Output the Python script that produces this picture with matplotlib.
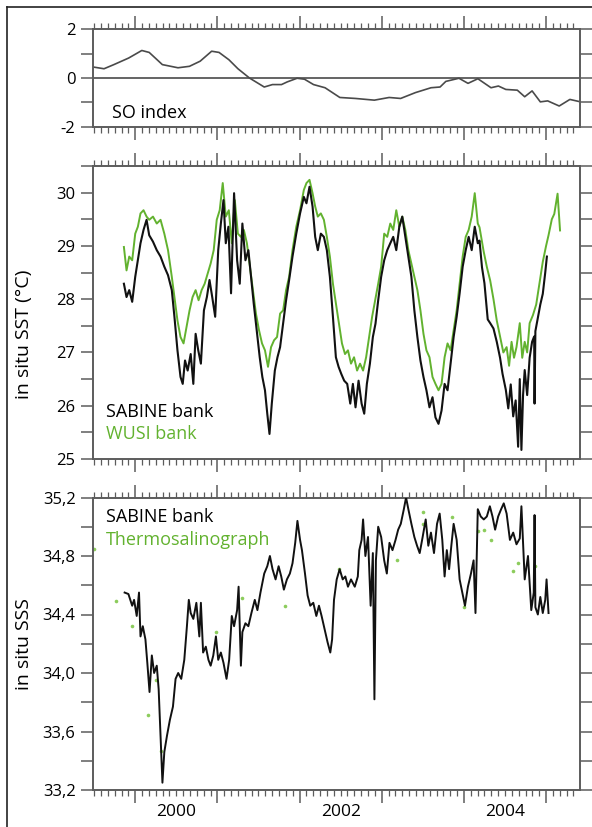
import matplotlib
matplotlib.use("Agg")
import matplotlib.pyplot as plt
from matplotlib.ticker import MultipleLocator, NullFormatter
from matplotlib.lines import Line2D

plt.rcParams['font.family'] = ['Open Sans', 'DejaVu Sans']

# ---- data (decimal years) ----
soi_t = [1999.49, 1999.62, 1999.74, 1999.92, 2000.08, 2000.17, 2000.33, 2000.52,
         2000.66, 2000.79, 2000.93, 2001.02, 2001.14, 2001.25, 2001.39, 2001.57,
         2001.67, 2001.78, 2001.85, 2001.97, 2002.06, 2002.17, 2002.31, 2002.49,
         2002.68, 2002.91, 2003.09, 2003.23, 2003.41, 2003.60, 2003.71, 2003.78,
         2003.94, 2004.05, 2004.17, 2004.33, 2004.42, 2004.51, 2004.65, 2004.74,
         2004.83, 2004.93, 2005.02, 2005.16, 2005.29, 2005.42]
soi = [0.45, 0.38, 0.55, 0.82, 1.13, 1.05, 0.55, 0.42,
       0.48, 0.69, 1.10, 1.05, 0.75, 0.38, 0.00, -0.37,
       -0.27, -0.27, -0.16, -0.01, -0.05, -0.27, -0.40, -0.80,
       -0.84, -0.91, -0.80, -0.84, -0.60, -0.40, -0.37, -0.14,
       -0.01, -0.22, -0.03, -0.40, -0.33, -0.47, -0.50, -0.77,
       -0.53, -0.98, -0.94, -1.15, -0.88, -0.98]

sst_sabine_t = [1999.862, 1999.894, 1999.927, 1999.963, 2000.000, 2000.032, 2000.064, 2000.101,
                2000.138, 2000.170, 2000.216, 2000.262, 2000.308, 2000.354, 2000.399, 2000.445,
                2000.477, 2000.514, 2000.551, 2000.578, 2000.606, 2000.638, 2000.675, 2000.707,
                2000.735, 2000.767, 2000.799, 2000.836, 2000.872, 2000.904, 2000.937, 2000.973,
                2001.010, 2001.042, 2001.074, 2001.102, 2001.134, 2001.166, 2001.203, 2001.240,
                2001.272, 2001.304, 2001.341, 2001.377, 2001.409, 2001.442, 2001.478, 2001.515,
                2001.547, 2001.579, 2001.607, 2001.634, 2001.662, 2001.699, 2001.731, 2001.763,
                2001.800, 2001.836, 2001.873, 2001.914, 2001.960, 2002.006, 2002.052, 2002.084,
                2002.121, 2002.158, 2002.190, 2002.222, 2002.259, 2002.296, 2002.332, 2002.369,
                2002.406, 2002.442, 2002.475, 2002.507, 2002.543, 2002.580, 2002.617, 2002.649,
                2002.681, 2002.718, 2002.755, 2002.787, 2002.819, 2002.856, 2002.892, 2002.924,
                2002.957, 2002.993, 2003.030, 2003.067, 2003.104, 2003.140, 2003.177, 2003.214,
                2003.250, 2003.287, 2003.324, 2003.361, 2003.397, 2003.434, 2003.471, 2003.508,
                2003.544, 2003.581, 2003.618, 2003.654, 2003.691, 2003.728, 2003.765, 2003.801,
                2003.838, 2003.875, 2003.912, 2003.948, 2003.985, 2004.022, 2004.058, 2004.095,
                2004.132, 2004.169, 2004.19, 2004.22, 2004.25, 2004.29, 2004.32, 2004.36,
                2004.40, 2004.44, 2004.47, 2004.51, 2004.54, 2004.57, 2004.60, 2004.63,
                2004.66, 2004.68, 2004.70, 2004.72, 2004.74, 2004.77, 2004.80, 2004.83,
                2004.855, 2004.86, 2004.87, 2004.90, 2004.93, 2004.96, 2004.99, 2005.01]
sst_sabine = [28.29, 28.04, 28.17, 27.95, 28.42, 28.73, 29.05, 29.30,
              29.49, 29.20, 29.08, 28.92, 28.80, 28.61, 28.45, 28.17,
              27.67, 27.04, 26.54, 26.41, 26.85, 26.66, 26.97, 26.41,
              27.35, 27.04, 26.79, 27.79, 28.04, 28.36, 28.04, 27.67,
              28.92, 29.42, 29.86, 29.05, 29.36, 28.11, 29.99, 28.73,
              28.29, 29.42, 28.73, 28.92, 28.42, 27.92, 27.42, 26.91,
              26.54, 26.29, 25.85, 25.47, 26.04, 26.66, 26.91, 27.10,
              27.54, 27.98, 28.36, 28.80, 29.23, 29.61, 29.92, 29.80,
              30.11, 29.74, 29.17, 28.92, 29.23, 29.17, 28.92, 28.42,
              27.67, 26.91, 26.73, 26.60, 26.47, 26.41, 26.04, 26.41,
              25.97, 26.47, 26.04, 25.85, 26.41, 26.79, 27.29, 27.54,
              27.98, 28.42, 28.73, 28.92, 29.05, 29.17, 28.92, 29.36,
              29.55, 29.17, 28.80, 28.42, 27.79, 27.29, 26.85, 26.54,
              26.29, 25.97, 26.16, 25.78, 25.66, 25.91, 26.41, 26.29,
              26.79, 27.29, 27.67, 28.11, 28.61, 28.92, 29.17, 28.92,
              29.36, 29.05, 29.10, 28.60, 28.30, 27.62, 27.55, 27.45,
              27.20, 26.90, 26.60, 26.30, 25.95, 26.40, 25.80, 26.10,
              25.23, 26.50, 25.17, 26.20, 26.67, 26.20, 26.90, 27.20,
              27.30, 26.04, 27.40, 27.65, 27.90, 28.10, 28.50, 28.80]

sst_wusi_t = [1999.862, 1999.894, 1999.927, 1999.963, 2000.000, 2000.032, 2000.064, 2000.101,
              2000.138, 2000.170, 2000.216, 2000.262, 2000.308, 2000.354, 2000.399, 2000.445,
              2000.477, 2000.514, 2000.551, 2000.588, 2000.624, 2000.661, 2000.698, 2000.735,
              2000.771, 2000.808, 2000.845, 2000.881, 2000.918, 2000.955, 2000.992, 2001.028,
              2001.065, 2001.102, 2001.139, 2001.175, 2001.212, 2001.249, 2001.286, 2001.322,
              2001.359, 2001.396, 2001.432, 2001.469, 2001.506, 2001.543, 2001.579, 2001.616,
              2001.653, 2001.690, 2001.726, 2001.763, 2001.800, 2001.836, 2001.873, 2001.914,
              2001.960, 2002.006, 2002.052, 2002.084, 2002.121, 2002.158, 2002.190, 2002.222,
              2002.259, 2002.296, 2002.332, 2002.369, 2002.406, 2002.442, 2002.479, 2002.516,
              2002.553, 2002.589, 2002.626, 2002.663, 2002.700, 2002.736, 2002.773, 2002.810,
              2002.846, 2002.883, 2002.920, 2002.957, 2002.993, 2003.030, 2003.067, 2003.104,
              2003.140, 2003.177, 2003.214, 2003.250, 2003.287, 2003.324, 2003.361, 2003.397,
              2003.434, 2003.471, 2003.508, 2003.544, 2003.581, 2003.618, 2003.654, 2003.691,
              2003.728, 2003.765, 2003.801, 2003.838, 2003.875, 2003.912, 2003.948, 2003.985,
              2004.022, 2004.058, 2004.095, 2004.132, 2004.169, 2004.19, 2004.24, 2004.28,
              2004.32, 2004.36, 2004.40, 2004.44, 2004.48, 2004.52, 2004.55, 2004.58,
              2004.61, 2004.64, 2004.68, 2004.71, 2004.74, 2004.77, 2004.80, 2004.84,
              2004.88, 2004.92, 2004.96, 2005.00, 2005.03, 2005.07, 2005.10, 2005.14, 2005.17]
sst_wusi = [28.98, 28.54, 28.80, 28.73, 29.23, 29.36, 29.61, 29.67,
            29.55, 29.49, 29.55, 29.42, 29.49, 29.23, 28.92, 28.42,
            28.04, 27.60, 27.29, 27.17, 27.48, 27.79, 28.04, 28.17,
            27.98, 28.17, 28.29, 28.48, 28.67, 28.92, 29.49, 29.67,
            30.18, 29.55, 29.67, 29.05, 29.86, 29.23, 29.17, 29.30,
            29.05, 28.61, 28.17, 27.73, 27.42, 27.17, 27.04, 26.73,
            27.10, 27.23, 27.29, 27.73, 27.79, 28.17, 28.42, 28.92,
            29.36, 29.67, 30.05, 30.18, 30.24, 29.99, 29.74, 29.55,
            29.61, 29.49, 29.17, 28.80, 28.29, 27.92, 27.54, 27.17,
            26.97, 27.04, 26.79, 26.91, 26.66, 26.79, 26.66, 26.91,
            27.29, 27.67, 27.98, 28.29, 28.61, 29.23, 29.17, 29.42,
            29.30, 29.67, 29.36, 29.55, 29.30, 28.92, 28.67, 28.42,
            28.17, 27.79, 27.35, 27.04, 26.91, 26.54, 26.41, 26.29,
            26.41, 26.91, 27.17, 27.04, 27.42, 27.79, 28.29, 28.80,
            29.17, 29.30, 29.55, 29.99, 29.42, 29.35, 28.90, 28.60,
            28.35, 28.00, 27.60, 27.30, 27.00, 27.10, 26.75, 27.20,
            26.90, 27.10, 27.55, 26.90, 27.20, 27.00, 27.55, 27.70,
            27.90, 28.30, 28.70, 29.00, 29.20, 29.50, 29.60, 29.98, 29.29]

sss_sabine_t = [1999.871, 1999.917, 1999.963, 1999.986, 2000.018, 2000.046, 2000.064, 2000.092,
                2000.124, 2000.147, 2000.174, 2000.202, 2000.230, 2000.262, 2000.285, 2000.308,
                2000.331, 2000.354, 2000.386, 2000.422, 2000.459, 2000.491, 2000.523, 2000.560,
                2000.597, 2000.629, 2000.652, 2000.675, 2000.707, 2000.744, 2000.780, 2000.799,
                2000.826, 2000.859, 2000.891, 2000.918, 2000.950, 2000.982, 2001.010, 2001.042,
                2001.074, 2001.111, 2001.143, 2001.175, 2001.203, 2001.240, 2001.258, 2001.286,
                2001.304, 2001.341, 2001.377, 2001.414, 2001.455, 2001.487, 2001.524, 2001.570,
                2001.607, 2001.639, 2001.671, 2001.708, 2001.745, 2001.777, 2001.809, 2001.846,
                2001.882, 2001.914, 2001.947, 2001.974, 2002.006, 2002.029, 2002.066, 2002.098,
                2002.130, 2002.167, 2002.204, 2002.236, 2002.268, 2002.305, 2002.341, 2002.374,
                2002.396, 2002.419, 2002.452, 2002.488, 2002.525, 2002.557, 2002.589, 2002.626,
                2002.672, 2002.709, 2002.727, 2002.755, 2002.773, 2002.801, 2002.833, 2002.865,
                2002.892, 2002.911, 2002.929, 2002.957, 2002.993, 2003.030, 2003.062, 2003.094,
                2003.131, 2003.168, 2003.200, 2003.232, 2003.269, 2003.296, 2003.324, 2003.361,
                2003.397, 2003.430, 2003.462, 2003.498, 2003.535, 2003.567, 2003.599, 2003.636,
                2003.673, 2003.705, 2003.737, 2003.765, 2003.792, 2003.820, 2003.847, 2003.875,
                2003.912, 2003.948, 2003.980, 2004.013, 2004.049, 2004.086, 2004.118, 2004.141,
                2004.169, 2004.205, 2004.242, 2004.279, 2004.316, 2004.348, 2004.380, 2004.417,
                2004.453, 2004.485, 2004.52, 2004.56, 2004.60, 2004.64, 2004.68, 2004.70,
                2004.74, 2004.78, 2004.82, 2004.85, 2004.86, 2004.87, 2004.90, 2004.93,
                2004.96, 2004.99, 2005.006, 2005.03]
sss_sabine = [34.55, 34.54, 34.46, 34.50, 34.39, 34.55, 34.25, 34.32,
              34.23, 34.07, 33.87, 34.12, 34.00, 34.05, 33.89, 33.57,
              33.25, 33.46, 33.57, 33.68, 33.77, 33.96, 34.00, 33.96,
              34.09, 34.32, 34.50, 34.41, 34.37, 34.48, 34.25, 34.48,
              34.14, 34.18, 34.09, 34.05, 34.12, 34.25, 34.09, 34.14,
              34.07, 33.96, 34.09, 34.39, 34.32, 34.43, 34.59, 34.05,
              34.28, 34.34, 34.32, 34.41, 34.50, 34.43, 34.55, 34.68,
              34.73, 34.80, 34.71, 34.64, 34.73, 34.66, 34.57, 34.64,
              34.68, 34.75, 34.89, 35.04, 34.91, 34.84, 34.68, 34.53,
              34.46, 34.48, 34.39, 34.46, 34.39, 34.30, 34.21, 34.14,
              34.23, 34.50, 34.64, 34.71, 34.64, 34.66, 34.59, 34.64,
              34.59, 34.66, 34.84, 34.91, 35.05, 34.80, 34.93, 34.46,
              34.82, 33.82, 34.77, 35.00, 34.93, 34.77, 34.68, 34.89,
              34.84, 34.91, 34.98, 35.02, 35.12, 35.20, 35.12, 35.02,
              34.93, 34.87, 34.82, 34.93, 35.05, 34.87, 34.96, 34.82,
              35.02, 35.09, 34.91, 34.66, 34.84, 34.71, 34.87, 35.02,
              34.91, 34.64, 34.55, 34.46, 34.59, 34.68, 34.77, 34.41,
              35.12, 35.07, 35.05, 35.07, 35.14, 35.07, 34.98, 35.07,
              35.12, 35.16, 35.09, 34.91, 34.96, 34.88, 34.92, 35.14,
              34.64, 34.80, 34.43, 34.55, 35.08, 34.45, 34.40, 34.52,
              34.41, 34.50, 34.64, 34.41]

tsg_t = [1999.50, 1999.77, 1999.96, 2000.15, 2000.25, 2000.31, 2000.98, 2001.30,
         2001.82, 2002.48, 2003.18, 2003.50, 2003.50, 2003.86, 2004.00, 2004.17,
         2004.25, 2004.33, 2004.60, 2004.66, 2004.86]
tsg = [34.85, 34.49, 34.32, 33.71, 33.95, 33.47, 34.28, 34.51,
       34.46, 34.71, 34.77, 35.10, 35.02, 35.07, 34.45, 34.97,
       34.98, 34.91, 34.70, 34.75, 34.73]

so_ticks = [-2, -1, 0, 1, 2]
so_labels = ['-2', '', '0', '', '2']
sst_ticks = [25, 25.5, 26, 26.5, 27, 27.5, 28, 28.5, 29, 29.5, 30, 30.5]
sst_labels = ['25', '', '26', '', '27', '', '28', '', '29', '', '30', '']
sss_ticks = [33.2, 33.4, 33.6, 33.8, 34.0, 34.2, 34.4, 34.6, 34.8, 35.0, 35.2]
sss_labels = ['33,2', '', '33,6', '', '34,0', '', '34,4', '', '34,8', '', '35,2']
year_labels = ['2000', '2002', '2004']
year_label_pos = [2000.5, 2002.5, 2004.5]

GREEN = '#62b22f'
SPINE = '#5c5c5c'
W, H = 592, 827

fig = plt.figure(figsize=(W / 100, H / 100), dpi=100)


def box(top, bottom):
    return [93 / W, 1 - bottom / H, (580 - 93) / W, (bottom - top) / H]


ax1 = fig.add_axes(box(29.3, 126.7))
ax2 = fig.add_axes(box(166, 459))
ax3 = fig.add_axes(box(497.5, 790))

for ax, ticks, labels, lim in [(ax1, so_ticks, so_labels, (-2, 2)),
                               (ax2, sst_ticks, sst_labels, (25, 30.5)),
                               (ax3, sss_ticks, sss_labels, (33.2, 35.2))]:
    ax.set_xlim(1999.486, 2005.413)
    ax.set_ylim(*lim)
    ax.set_yticks(ticks)
    ax.set_yticklabels(labels)
    ax.xaxis.set_major_locator(MultipleLocator(1))
    ax.xaxis.set_minor_locator(MultipleLocator(1 / 12))
    ax.xaxis.set_major_formatter(NullFormatter())
    ax.tick_params(axis='x', which='major', direction='out', length=9.4, width=1.1,
                   color=SPINE, top=True, bottom=True)
    ax.tick_params(axis='x', which='minor', direction='out', length=4.3, width=0.9,
                   color=SPINE, top=True, bottom=True)
    ax.tick_params(axis='y', which='major', direction='out', length=8.6, width=1.1,
                   color=SPINE, left=True, right=True, labelsize=12, pad=4)
    for s in ax.spines.values():
        s.set_color(SPINE)
        s.set_linewidth(1.4)

# SO index
ax1.axhline(0, color='#3a3a3a', lw=1.1, zorder=1)
ax1.plot(soi_t, soi, color='#4a4a4a', lw=1.2, zorder=2)
ax1.text(0.039, 0.14, 'SO index', transform=ax1.transAxes, fontsize=13,
         ha='left', va='center')

# SST
ax2.plot(sst_wusi_t, sst_wusi, color=GREEN, lw=1.4, zorder=2)
ax2.plot(sst_sabine_t, sst_sabine, color='#111111', lw=1.5, zorder=3)
ax2.text(0.027, 0.161, 'SABINE bank', transform=ax2.transAxes, fontsize=13,
         ha='left', va='center')
ax2.text(0.027, 0.085, 'WUSI bank', transform=ax2.transAxes, fontsize=13,
         ha='left', va='center', color=GREEN)
ax2.set_ylabel('in situ SST (°C)', fontsize=14)
ax2.yaxis.set_label_coords(-0.123, 0.427)

# SSS
ax3.plot(sss_sabine_t, sss_sabine, color='#111111', lw=1.4, zorder=3)
ax3.plot(tsg_t, tsg, 'o', color='#8ccc5c', ms=2.6, mec='none', zorder=2)
ax3.text(0.027, 0.934, 'SABINE bank', transform=ax3.transAxes, fontsize=13,
         ha='left', va='center')
ax3.text(0.027, 0.855, 'Thermosalinograph', transform=ax3.transAxes, fontsize=13,
         ha='left', va='center', color=GREEN)
ax3.set_ylabel('in situ SSS', fontsize=14)
ax3.yaxis.set_label_coords(-0.123, 0.5)

tr = ax3.get_xaxis_transform()
for pos, lab in zip(year_label_pos, year_labels):
    ax3.text(pos, -0.075, lab, transform=tr, fontsize=12.5, ha='center', va='center')

# outer frame (top and left edges)
fig.add_artist(Line2D([7 / W, 1], [1 - 7 / H, 1 - 7 / H], transform=fig.transFigure,
                      color='#222222', lw=1.2))
fig.add_artist(Line2D([7 / W, 7 / W], [0, 1 - 7 / H], transform=fig.transFigure,
                      color='#222222', lw=1.2))

fig.savefig('out.png', dpi=100)
